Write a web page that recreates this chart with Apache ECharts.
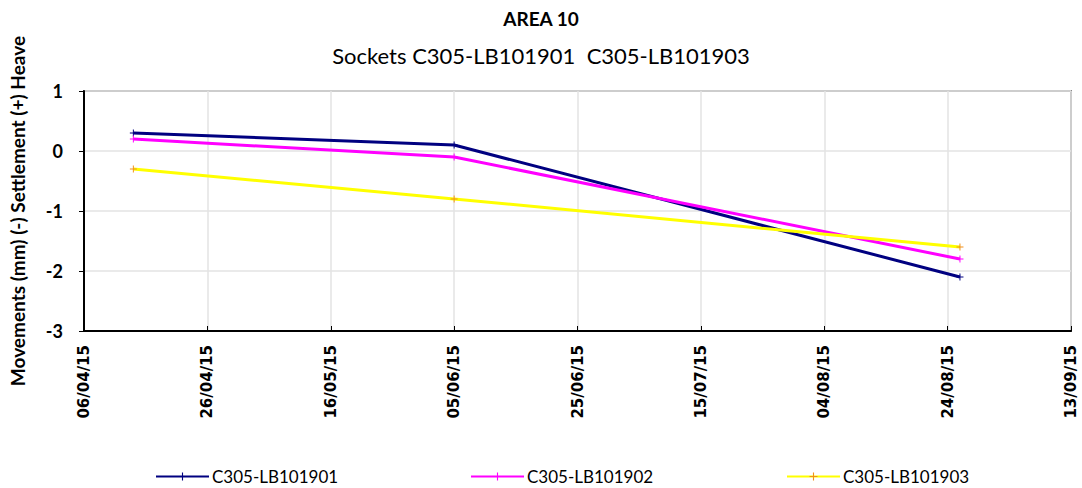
<!DOCTYPE html>
<html>
<head>
<meta charset="utf-8">
<script src="https://cdn.jsdelivr.net/npm/echarts@6/dist/echarts.min.js"></script>
<style>
  html, body { margin: 0; padding: 0; background: #fff; }
  #chart { width: 1082px; height: 488px; }
</style>
</head>
<body>
<div id="chart"></div>
<script>
// ── Data ──
var startDate = Date.UTC(2015, 3, 6);           // 06/04/15, first axis tick
var dates = ['14/04/15', '05/06/15', '26/08/15'];
var seriesNames = ['C305-LB101901', 'C305-LB101902', 'C305-LB101903'];
var lb101901 = [0.3, 0.1, -2.1];
var lb101902 = [0.2, -0.1, -1.8];
var lb101903 = [-0.3, -0.8, -1.6];

var DAY = 86400000;
function dayOffset(s) {
  var p = s.split('/');
  return Math.round((Date.UTC(2000 + +p[2], +p[1] - 1, +p[0]) - startDate) / DAY);
}
function fmt(off) {
  var d = new Date(startDate + off * DAY);
  var dd = ('0' + d.getUTCDate()).slice(-2);
  var mm = ('0' + (d.getUTCMonth() + 1)).slice(-2);
  var yy = ('' + d.getUTCFullYear()).slice(-2);
  return dd + '/' + mm + '/' + yy;
}
function pairs(vals) {
  return vals.map(function(v, i) { return [dayOffset(dates[i]), v]; });
}

var cross = 'path://M4.3,0h1.4v4.3h4.3v1.4h-4.3v4.3h-1.4v-4.3h-4.3v-1.4h4.3z';
var calibri = 'Lato, "Open Sans", sans-serif';

var chart = echarts.init(document.getElementById('chart'), null, { renderer: 'svg' });

function line(name, data, color, markColor) {
  return {
    name: name, type: 'line', data: pairs(data),
    symbol: cross, symbolSize: 7, showSymbol: true,
    lineStyle: { color: color, width: 3 },
    itemStyle: { color: markColor },
    emphasis: { disabled: true }
  };
}

function legendAt(name, left) {
  return {
    data: [name], left: left, top: 463, itemWidth: 53, itemHeight: 10, itemGap: 4,
    textStyle: { fontFamily: calibri, fontSize: 17, color: '#000', padding: [0, 0, 0, -2] }
  };
}

chart.setOption({
  animation: false,
  title: [
    { text: 'AREA 10', left: 'center', top: 4, textStyle: { fontFamily: calibri, fontSize: 19, fontWeight: 'bold', color: '#000' } },
    { text: 'Sockets C305-LB101901  C305-LB101903', left: 'center', top: 39, textStyle: { fontFamily: calibri, fontSize: 22, fontWeight: 'normal', color: '#000' } }
  ],
  legend: [
    legendAt(seriesNames[0], 150),
    legendAt(seriesNames[1], 465),
    legendAt(seriesNames[2], 781)
  ],
  grid: { left: 83, right: 11, top: 91, bottom: 157, show: true, borderColor: '#8a8a8a', borderWidth: 2 },
  xAxis: {
    type: 'value', min: 0, max: 160, interval: 20,
    axisLine: { show: true, onZero: false, lineStyle: { color: '#000', width: 2 } },
    axisTick: { show: true, inside: true, length: 5, lineStyle: { color: '#000' } },
    axisLabel: { rotate: 90, margin: 14, fontFamily: 'DejaVu Sans', fontWeight: 'bold', fontSize: 15, color: '#000', formatter: fmt },
    splitLine: { show: true, lineStyle: { color: '#e3e3e3', width: 1.5 } }
  },
  yAxis: {
    type: 'value', min: -3, max: 1, interval: 1,
    name: 'Movements (mm) (-) Settlement (+) Heave',
    nameLocation: 'middle', nameGap: 57, nameRotate: 90,
    nameTextStyle: { fontFamily: calibri, fontSize: 19, fontWeight: 'bold', color: '#000', padding: [0, 0, 0, 0] },
    axisLine: { show: true, lineStyle: { color: '#000', width: 2 } },
    axisTick: { show: true, length: 5, lineStyle: { color: '#000' } },
    axisLabel: { margin: 21, fontFamily: calibri, fontWeight: 'bold', fontSize: 18, color: '#000' },
    splitLine: { show: true, lineStyle: { color: '#e3e3e3', width: 1.5 } }
  },
  series: [
    line(seriesNames[0], lb101901, '#000080', '#000080'),
    line(seriesNames[1], lb101902, '#ff00ff', '#ff00ff'),
    line(seriesNames[2], lb101903, '#ffff00', '#f0901a')
  ]
});
</script>
</body>
</html>
